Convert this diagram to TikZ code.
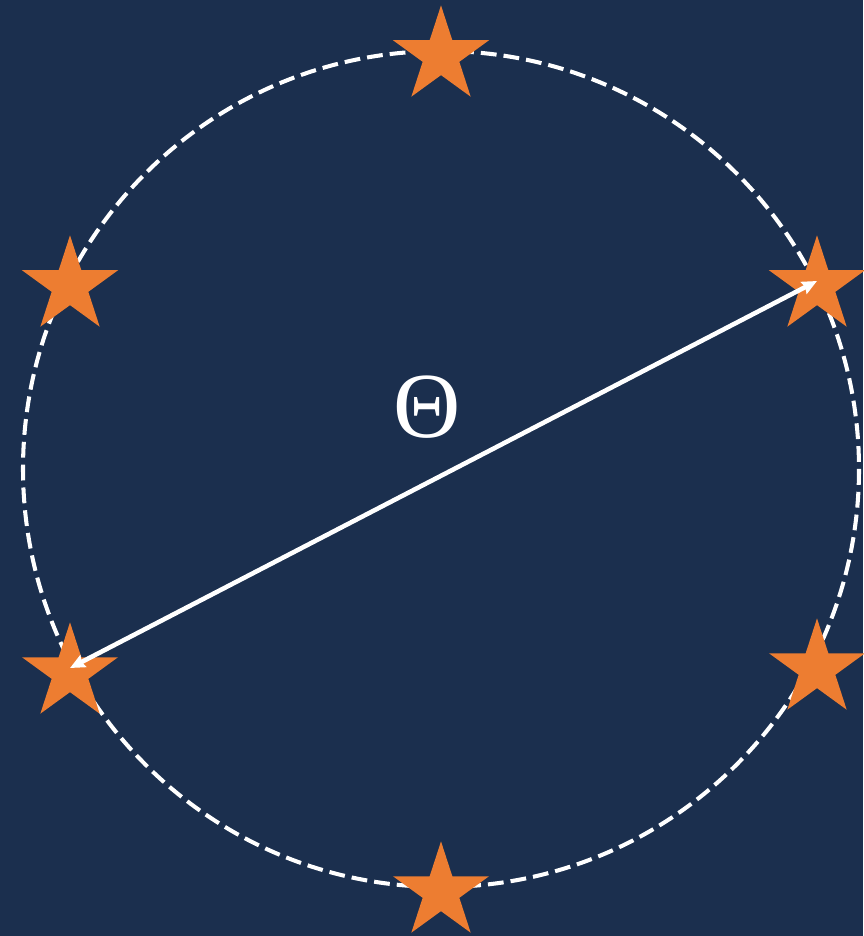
\documentclass[tikz,border=0pt]{standalone}
\usepackage{fontspec}
\usetikzlibrary{shapes.geometric,arrows.meta}
\newfontfamily\thetafont{Liberation Serif}
\definecolor{navy}{RGB}{27,47,78}
\definecolor{starorange}{RGB}{237,125,49}
\tikzset{
  starmark/.style={star, star points=5, star point ratio=2.618, fill=starorange,
    draw=none, inner sep=0pt, outer sep=0pt, minimum size=2.02cm, yshift=-0.097cm},
  ring/.style={white, line width=2.3pt, dash pattern=on 9pt off 4pt},
  span/.style={white, line width=2.6pt, {Stealth[length=8.5pt,width=7.5pt,inset=1pt]}-{Stealth[length=8.5pt,width=7.5pt,inset=1pt]}}
}
\begin{document}
\begin{tikzpicture}[x=0.02cm,y=-0.02cm]
  % fond et cadre
  \fill[navy] (0,0) rectangle (863,936);
  \useasboundingbox (0,0) rectangle (863,936);
  % cercle en pointillés
  \coordinate (O) at (441,469);
  \draw[ring] (O) circle[radius=418];
  % positions des étoiles
  \coordinate (top) at (441,51);
  \coordinate (bot) at (441,887);
  \coordinate (ul) at (70,281);
  \coordinate (ur) at (817,281);
  \coordinate (ll) at (70,668);
  \coordinate (lr) at (817,664);
  % étoiles
  \foreach \p in {top,bot,ul,ur,ll,lr}
    \node[starmark] (s-\p) at (\p) {};
  % diamètre avec flèches
  \draw[span] (ll) -- (ur);
  % étiquette
  \node[font=\thetafont\fontsize{53}{55}\selectfont, white] (theta) at (427,407) {Θ};
\end{tikzpicture}
\end{document}
